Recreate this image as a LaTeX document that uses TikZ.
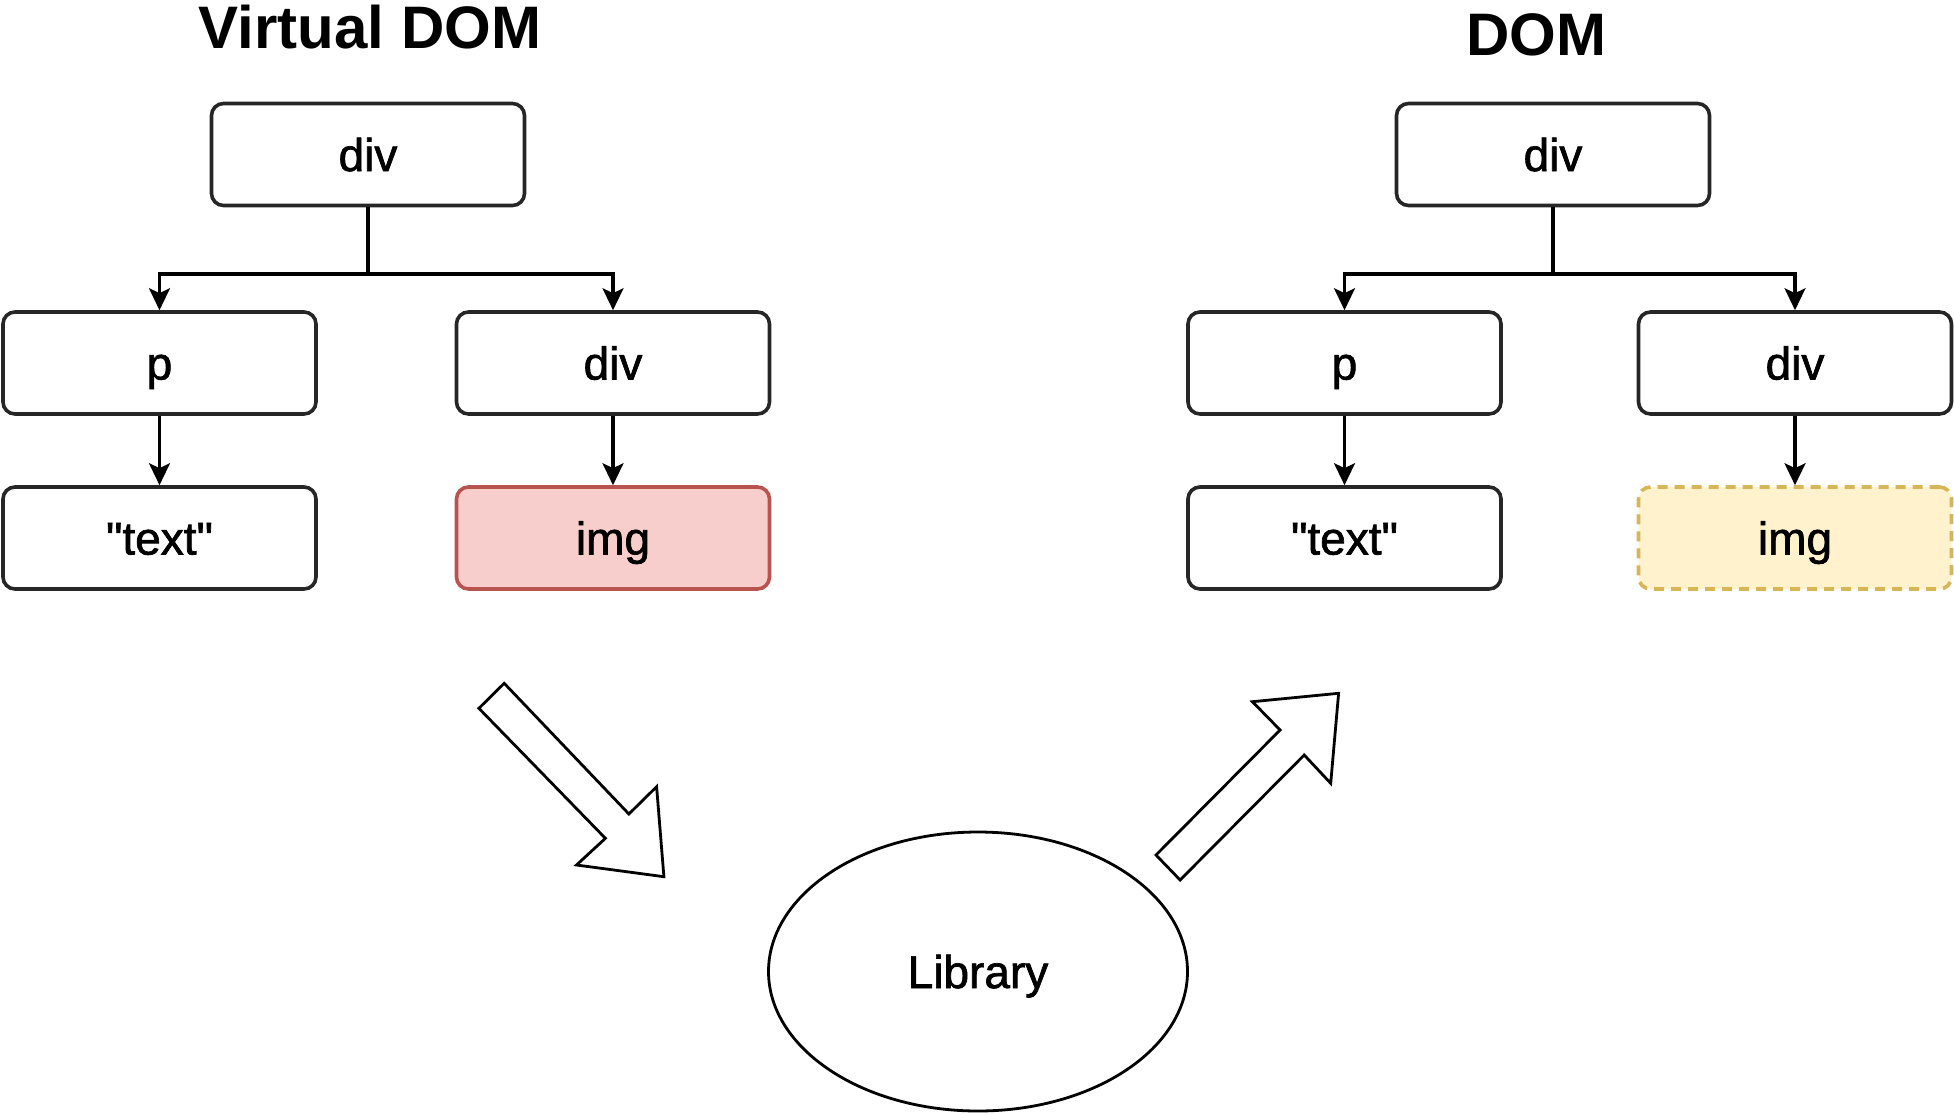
\documentclass[tikz,border=0pt]{standalone}
\usepackage{fontspec}
\setmainfont{Liberation Sans}[Ligatures=TeXOff]
\newfontfamily\lblfont{Liberation Sans}[Ligatures=TeXOff,FakeBold=1.5]
\usetikzlibrary{arrows.meta,shapes.geometric}
\definecolor{redfill}{HTML}{F8CECC}
\definecolor{redline}{HTML}{B85450}
\definecolor{yelfill}{HTML}{FFF2CC}
\definecolor{yelline}{HTML}{D6B656}
\begin{document}
\begin{tikzpicture}[x=1pt,y=-1pt,
  box/.style={draw=black!85, line width=3.6pt, rounded corners=12pt,
    minimum width=313pt, minimum height=102pt, inner sep=0pt,
    text height=33pt, text depth=0pt,
    font=\lblfont\fontsize{46}{52}\selectfont, fill=white},
  redbox/.style={box, fill=redfill, draw=redline},
  yelbox/.style={box, fill=yelfill, draw=yelline, dash pattern=on 10pt off 7pt},
  titletext/.style={font=\fontsize{60}{70}\selectfont\bfseries, inner sep=0pt},
  conn/.style={line width=3.2pt, -{Stealth[length=22pt,width=21pt,inset=5pt]}},
  bus/.style={line width=3.2pt},
  blockarrow/.style={draw, line width=2.8pt, fill=white, line join=miter},
  libnode/.style={draw, ellipse, line width=2.8pt, minimum width=419pt,
    minimum height=279pt, inner sep=0pt, text height=33pt, text depth=0pt,
    font=\lblfont\fontsize{46}{52}\selectfont}]
\useasboundingbox (0,0) rectangle (1954,1114);

% Virtual DOM
\node[titletext] (vtitle) at (370,27) {Virtual DOM};
\node[box] (vroot) at (368,154.5) {div};
\node[box] (vp) at (159.5,363) {p};
\node[box] (vdiv) at (613,363) {div};
\node[box] (vtext) at (159.5,538) {"text"};
\node[redbox] (vimg) at (613,538) {img};
\coordinate (vbus) at (368,274);
\draw[bus] (vroot.south) -- (vbus);
\draw[conn] (vbus) -| (vp.north);
\draw[conn] (vbus) -| (vdiv.north);
\draw[conn] (vp) -- (vtext);
\draw[conn] (vdiv) -- (vimg);

% DOM
\node[titletext] (dtitle) at (1536,35) {DOM};
\node[box] (droot) at (1553,154.5) {div};
\node[box] (dp) at (1344.5,363) {p};
\node[box] (ddiv) at (1795,363) {div};
\node[box] (dtext) at (1344.5,538) {"text"};
\node[yelbox] (dimg) at (1795,538) {img};
\coordinate (dbus) at (1553,274);
\draw[bus] (droot.south) -- (dbus);
\draw[conn] (dbus) -| (dp.north);
\draw[conn] (dbus) -| (ddiv.north);
\draw[conn] (dp) -- (dtext);
\draw[conn] (ddiv) -- (dimg);

% Library
\node[libnode] (lib) at (978,971.5) {Library};

% block arrows
\draw[blockarrow] (478.9,708.3) -- (504.2,683.3) -- (628.9,814) -- (656.6,786.7)
  -- (663.9,876.7) -- (576.5,865) -- (605.4,838.3) -- cycle;
\draw[blockarrow] (1156,855) -- (1180.1,880) -- (1304.2,755) -- (1330.7,783.3)
  -- (1338.6,693.3) -- (1252.4,701.7) -- (1280.1,730) -- cycle;
\end{tikzpicture}
\end{document}
